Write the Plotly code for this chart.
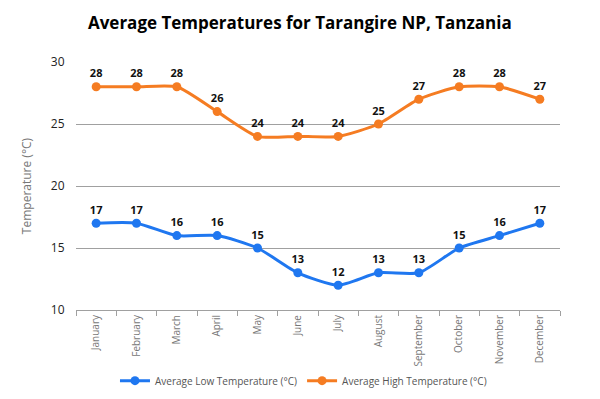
import plotly.graph_objects as go

months = ["January", "February", "March", "April", "May", "June", "July",
          "August", "September", "October", "November", "December"]
low_temps = [17, 17, 16, 16, 15, 13, 12, 13, 13, 15, 16, 17]
high_temps = [28, 28, 28, 26, 24, 24, 24, 25, 27, 28, 28, 27]

BLUE = "#1f77f0"
ORANGE = "#f57c22"

fig = go.Figure()
fig.add_trace(go.Scatter(
    x=months, y=low_temps, name="Average Low Temperature (°C)",
    mode="lines+markers+text", text=[str(v) for v in low_temps],
    textposition="top center",
    textfont=dict(family="Open Sans", size=11, color="#111111", weight="bold"),
    line=dict(color=BLUE, width=3, shape="spline", smoothing=0.6),
    marker=dict(color=BLUE, size=9),
))
fig.add_trace(go.Scatter(
    x=months, y=high_temps, name="Average High Temperature (°C)",
    mode="lines+markers+text", text=[str(v) for v in high_temps],
    textposition="top center",
    textfont=dict(family="Open Sans", size=11, color="#111111", weight="bold"),
    line=dict(color=ORANGE, width=3, shape="spline", smoothing=0.6),
    marker=dict(color=ORANGE, size=9),
))

fig.update_layout(
    width=592, height=391,
    paper_bgcolor="white", plot_bgcolor="white",
    margin=dict(l=68, r=40, t=54, b=89, autoexpand=False),
    title=dict(text="<b>Average Temperatures for Tarangire NP, Tanzania</b>",
               x=0.493, xanchor="center", y=0.962, yanchor="middle",
               font=dict(family="Open Sans", size=17, color="#000000")),
    showlegend=True,
    legend=dict(orientation="h", x=0.47, xanchor="center", y=-0.285, yanchor="middle",
                font=dict(family="Open Sans", size=10, color="#555555"),
                itemwidth=30),
    font=dict(family="Open Sans"),
)
fig.update_yaxes(
    range=[10, 30], dtick=5, showgrid=True, gridcolor="#a0a0a0", gridwidth=1,
    zeroline=False, showline=False, automargin=False,
    tickfont=dict(family="Open Sans", size=12, color="#222222"),
    title=dict(text="Temperature (°C)", font=dict(family="Open Sans", size=12, color="#777777"),
               standoff=16),
    ticks="outside", ticklen=8, tickcolor="rgba(0,0,0,0)",
)
fig.update_xaxes(
    showgrid=False, showline=True, linecolor="#a0a0a0", linewidth=1, automargin=False,
    ticks="outside", ticklen=5, tickcolor="#a0a0a0", tickson="boundaries",
    tickangle=-90, tickfont=dict(family="Open Sans", size=10, color="#777777"),
    range=[-0.5, 11.5],
)

fig.write_html("out.html")
